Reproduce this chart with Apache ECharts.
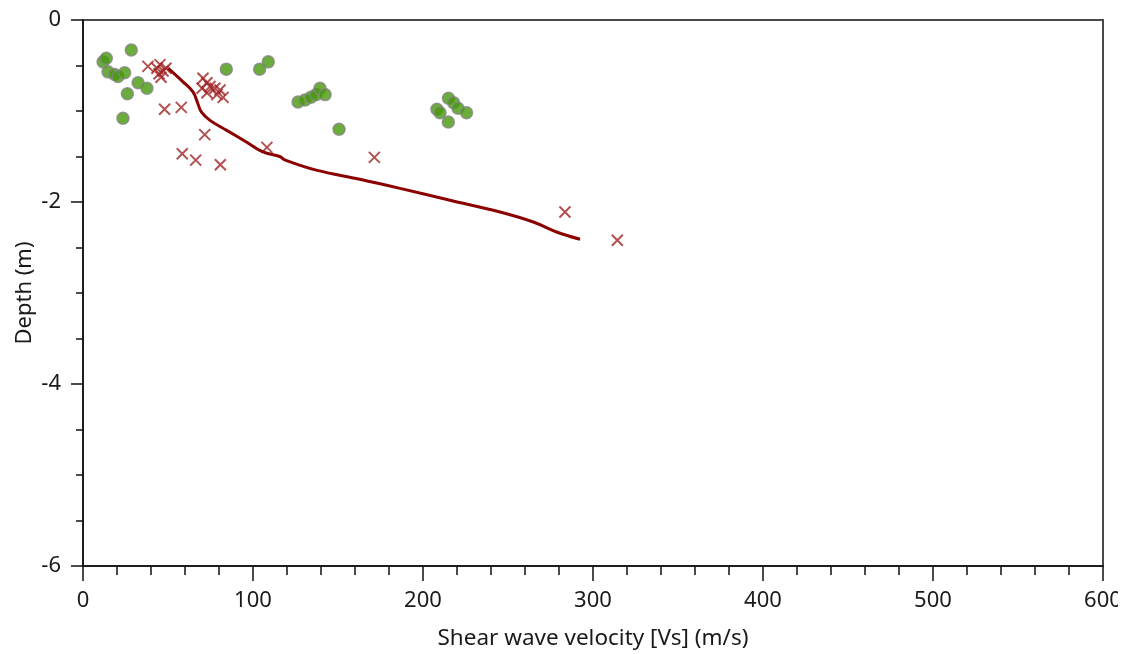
<!DOCTYPE html>
<html>
<head>
<meta charset="utf-8">
<script src="https://cdn.jsdelivr.net/npm/echarts@6/dist/echarts.min.js"></script>
<style>
html,body{margin:0;padding:0;background:#fff;overflow:hidden;}
#chart{width:1118px;height:654px;}
</style>
</head>
<body>
<div id="chart"></div>
<script>
// Green circles: measured Vs (m/s), depth (m)
const circleVs    = [11.8, 13.7, 28.4, 14.7, 18.6, 20.6, 24.5, 32.4, 37.6, 26.1, 23.5, 84.3, 103.9, 109.0, 126.5, 130.6, 134.1, 137.1, 139.4, 142.4, 150.6, 208.2, 210.0, 215.0, 218.0, 220.6, 225.6, 214.9];
const circleDepth = [-0.46, -0.42, -0.33, -0.57, -0.60, -0.62, -0.58, -0.69, -0.75, -0.81, -1.08, -0.54, -0.54, -0.46, -0.90, -0.88, -0.85, -0.82, -0.75, -0.82, -1.20, -0.98, -1.02, -0.86, -0.91, -0.97, -1.02, -1.12];

// Red crosses
const crossVs    = [38.2, 43.5, 45.3, 47.1, 44.7, 45.9, 48.8, 70.6, 72.9, 70.0, 74.7, 77.6, 80.6, 72.9, 78.8, 82.4, 48.0, 57.8, 71.6, 58.4, 66.3, 80.8, 108.2, 171.4, 283.5, 314.3];
const crossDepth = [-0.51, -0.53, -0.49, -0.56, -0.59, -0.63, -0.53, -0.64, -0.69, -0.75, -0.73, -0.75, -0.77, -0.80, -0.82, -0.85, -0.98, -0.96, -1.26, -1.47, -1.54, -1.59, -1.40, -1.51, -2.11, -2.42];

// Fitted profile line
const lineVs    = [50.0, 58.8, 64.7, 67.6, 69.6, 74.5, 84.3, 96.1, 105.9, 115.7, 119.0, 137.2, 162.8, 186.5, 215.9, 245.3, 264.9, 278.6, 292.4];
const lineDepth = [-0.53, -0.68, -0.79, -0.92, -1.01, -1.10, -1.21, -1.34, -1.45, -1.50, -1.54, -1.65, -1.75, -1.85, -1.98, -2.11, -2.22, -2.33, -2.41];

const xTicks = [0, 100, 200, 300, 400, 500, 600];
const yTicks = [-6, -4, -2, 0];

const zip = (a, b) => a.map((v, i) => [v, b[i]]);
const FONT = 'Noto Sans';
const TXT = '#1a1a1a';

const chart = echarts.init(document.getElementById('chart'), null, {renderer: 'canvas'});
chart.setOption({
  animation: false,
  backgroundColor: '#fff',
  grid: {left: 83, right: 15, top: 20, bottom: 88, outerBoundsMode: 'none', containLabel: false,
         show: true, borderColor: '#4a4a4a', borderWidth: 2, backgroundColor: 'transparent'},
  xAxis: {
    type: 'value', min: xTicks[0], max: xTicks[xTicks.length - 1], interval: 100,
    name: 'Shear wave velocity [Vs] (m/s)', nameLocation: 'middle', nameGap: 61, nameMoveOverlap: false,
    nameTextStyle: {fontFamily: FONT, fontSize: 22.5, color: TXT},
    axisLine: {show: true, onZero: false, lineStyle: {color: '#111', width: 1.5}},
    axisTick: {show: true, inside: false, length: 15, lineStyle: {color: '#111', width: 1.5}},
    minorTick: {show: true, splitNumber: 5, length: 9, lineStyle: {color: '#111', width: 1.5}},
    axisLabel: {fontFamily: FONT, fontSize: 22, color: TXT, margin: 24},
    splitLine: {show: false}
  },
  yAxis: {
    type: 'value', min: yTicks[0], max: yTicks[yTicks.length - 1], interval: 2,
    name: 'Depth (m)', nameLocation: 'middle', nameGap: 47, nameRotate: 90, nameMoveOverlap: false,
    nameTextStyle: {fontFamily: FONT, fontSize: 22, color: TXT},
    axisLine: {show: true, onZero: false, lineStyle: {color: '#111', width: 1.5}},
    axisTick: {show: true, inside: false, length: 12, lineStyle: {color: '#111', width: 1.5}},
    minorTick: {show: true, splitNumber: 4, length: 7, lineStyle: {color: '#111', width: 1.5}},
    axisLabel: {fontFamily: FONT, fontSize: 22, color: TXT, margin: 22},
    splitLine: {show: false}
  },
  series: [
    {
      type: 'scatter', name: 'Measured', data: zip(circleVs, circleDepth),
      symbol: 'circle', symbolSize: 12,
      itemStyle: {color: '#46980a', borderColor: '#858585', borderWidth: 1.5},
      z: 3
    },
    {
      type: 'scatter', name: 'Estimated', data: zip(crossVs, crossDepth),
      symbol: 'path://M0,0L10,10M10,0L0,10', symbolSize: 11,
      itemStyle: {color: 'rgba(0,0,0,0)', borderColor: '#a02626', borderWidth: 2},
      z: 4
    },
    {
      type: 'line', name: 'Profile', data: zip(lineVs, lineDepth),
      showSymbol: false, smooth: 0.4,
      lineStyle: {color: '#8b0000', width: 3},
      z: 5
    }
  ]
});
</script>
</body>
</html>
